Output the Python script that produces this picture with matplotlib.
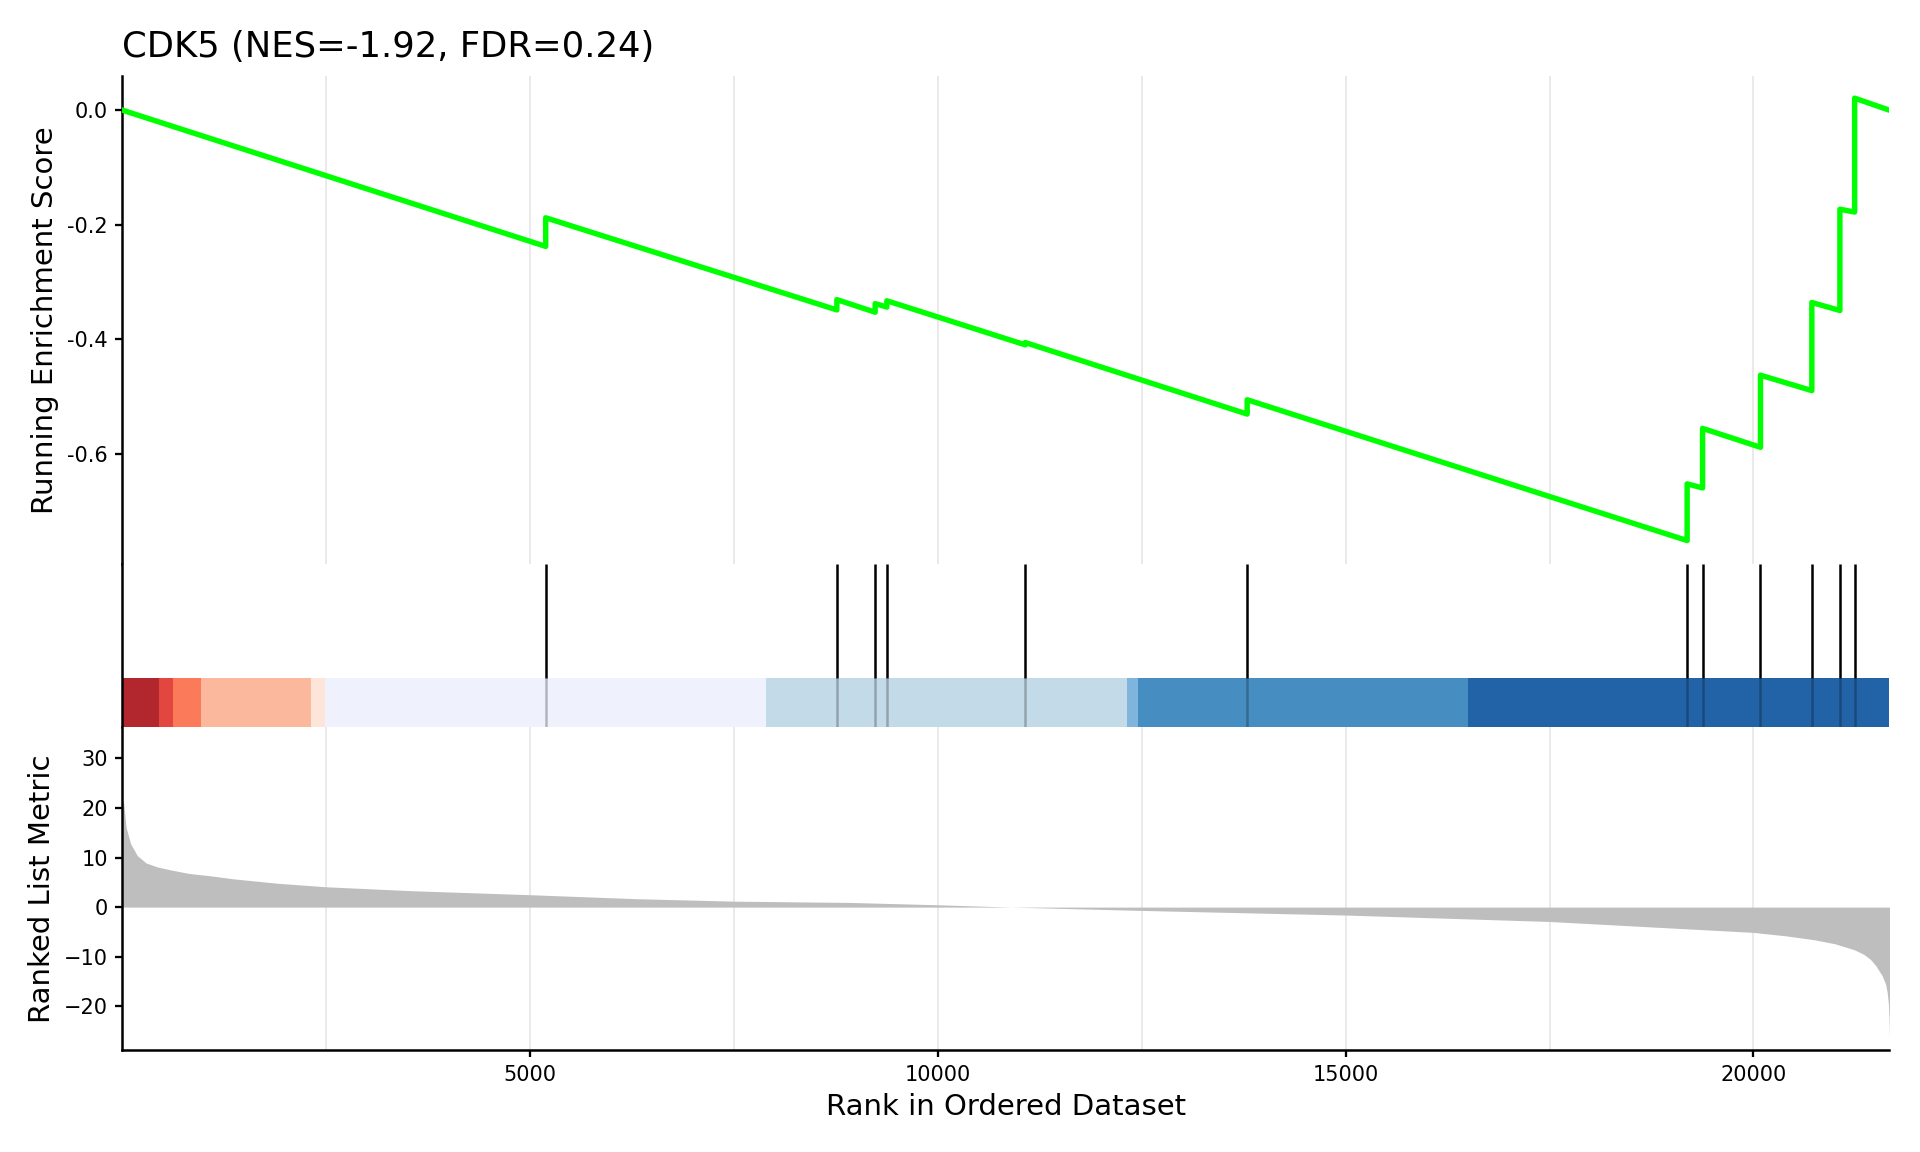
import matplotlib
matplotlib.use("Agg")
import matplotlib.pyplot as plt
from matplotlib.ticker import MultipleLocator

plt.rcParams['font.family'] = ['DejaVu Sans']

# ---------------- data ----------------
title = "CDK5 (NES=-1.92, FDR=0.24)"
n_genes = 21668

# gene-set hit positions in the ranked list
hit_ranks = [5190, 8760, 9230, 9373, 11070, 13792, 19187, 19376, 20086, 20716, 21060, 21241]
# running enrichment score just before / just after each hit
es_before = [-0.238, -0.349, -0.353, -0.344, -0.410, -0.531, -0.752, -0.660, -0.589, -0.490, -0.350, -0.178]
es_after = [-0.188, -0.331, -0.338, -0.333, -0.406, -0.506, -0.653, -0.556, -0.463, -0.336, -0.173, 0.021]
es_start = 0.0
es_end = 0.0

# ranked list metric (rank, value)
metric_rank = [0, 16, 44, 99, 181, 290, 428, 592, 811, 1086, 1360, 1908, 2500, 3553, 5000,
               6294, 7500, 8928, 10000, 10900, 12500, 15000, 17500, 20000, 20400, 20752,
               21000, 21237, 21350, 21432, 21500, 21577, 21620, 21640, 21655, 21662,
               21666, 21668]
metric_value = [21.5, 20.8, 16.1, 12.8, 10.4, 8.9, 8.1, 7.5, 6.8, 6.3, 5.7, 4.8, 4.1, 3.3, 2.5,
                1.7, 1.2, 0.94, 0.47, 0.0, -0.67, -1.6, -2.9, -5.1, -5.8, -6.6,
                -7.4, -8.6, -9.5, -10.5, -11.8, -13.8, -15.5, -17.2, -19.5, -22.0,
                -24.5, -26.4]

# colour strip segments (rank edges) and colours
strip_edges = [0, 443, 618, 968, 2309, 2489, 7892, 12313, 12456, 16495, 21668]
strip_colors = ['#b2262e', '#e2463f', '#fb7a5a', '#fbb89d', '#fee5d9',
                '#eff2fd', '#c3dae8', '#7fb5dc', '#468dc2', '#2163a6']

es_ticks = [0.0, -0.2, -0.4, -0.6]
metric_ticks = [30, 20, 10, 0, -10, -20]
rank_ticks = [5000, 10000, 15000, 20000]

# ---------------- figure ----------------
fig = plt.figure(figsize=(12.8, 7.68), dpi=150)
L, W = 0.0638, 0.9203
ax_es = fig.add_axes([L, 0.5101, W, 0.4240])
ax_hit = fig.add_axes([L, 0.3688, W, 0.1413])
ax_m = fig.add_axes([L, 0.0882, W, 0.2806])

grid_kw = dict(color='#e6e6e6', linewidth=0.8)

def style(ax, bottom=False):
    for s in ['top', 'right']:
        ax.spines[s].set_visible(False)
    ax.spines['bottom'].set_visible(bottom)
    ax.spines['left'].set_linewidth(1.2)
    ax.spines['bottom'].set_linewidth(1.2)
    ax.set_xlim(0, n_genes)
    ax.tick_params(axis='both', labelsize=10, width=1.1, length=3.5)

# running ES
xs = [0]
ys = [es_start]
for r, b, a in zip(hit_ranks, es_before, es_after):
    xs += [r, r]
    ys += [b, a]
xs.append(n_genes)
ys.append(es_end)

style(ax_es)
ax_es.plot(xs, ys, color='#00ff00', linewidth=2.6, solid_joinstyle='round', zorder=3)
ax_es.set_ylim(-0.7936, 0.0599)
ax_es.set_yticks(es_ticks)
ax_es.set_yticklabels([f"{t:.1f}" for t in es_ticks])
ax_es.xaxis.set_minor_locator(MultipleLocator(2500))
ax_es.set_xticks([])
ax_es.grid(True, axis='x', which='minor', **grid_kw)
ax_es.set_axisbelow(True)
ax_es.set_ylabel("Running Enrichment Score", fontsize=14)
ax_es.set_title(title, loc='left', fontsize=17, pad=9)

# hits + colour strip
style(ax_hit)
ax_hit.set_ylim(0, 1)
ax_hit.set_xticks([])
ax_hit.set_yticks([])
strip_top = 0.30
for i, c in enumerate(strip_colors):
    ax_hit.bar(strip_edges[i], strip_top, width=strip_edges[i + 1] - strip_edges[i],
               bottom=0, align='edge', color=c, linewidth=0, zorder=1)
ax_hit.vlines(hit_ranks, strip_top, 1, color='black', linewidth=1.2, zorder=2)
ax_hit.vlines(hit_ranks, 0, strip_top, color='black', linewidth=1.2, alpha=0.25, zorder=2)

# ranked metric
style(ax_m, bottom=True)
ax_m.fill_between(metric_rank, 0, metric_value, color='#bebebe', linewidth=0, zorder=2)
ax_m.set_ylim(-28.9, 36.3)
ax_m.set_yticks(metric_ticks)
ax_m.set_xticks(rank_ticks)
ax_m.xaxis.set_minor_locator(MultipleLocator(2500))
ax_m.tick_params(axis='x', which='minor', length=0)
ax_m.grid(True, axis='x', which='both', **grid_kw)
ax_m.set_axisbelow(True)
ax_m.set_ylabel("Ranked List Metric", fontsize=14)
ax_m.set_xlabel("Rank in Ordered Dataset", fontsize=14)

fig.align_ylabels([ax_es, ax_m])

fig.savefig("out.png", dpi=150, facecolor='white')
